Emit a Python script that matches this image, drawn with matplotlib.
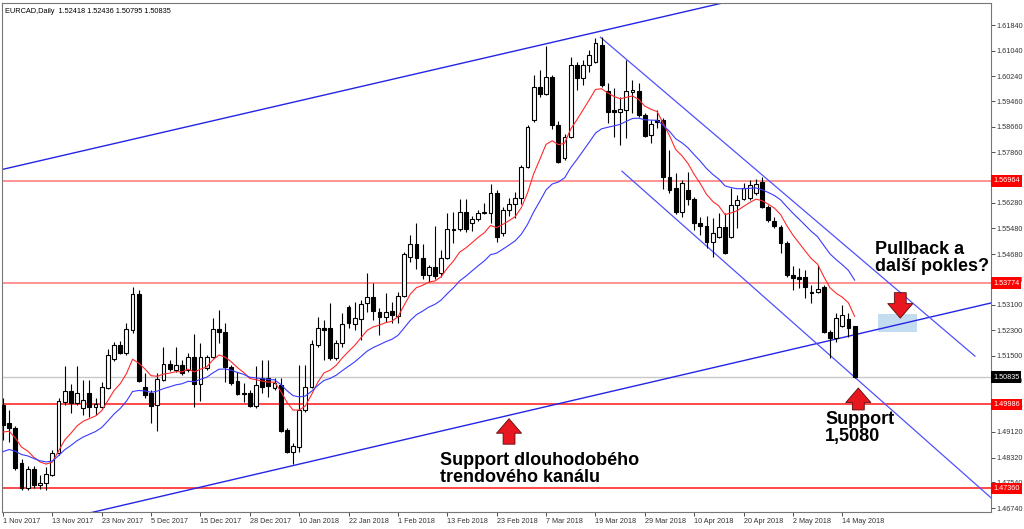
import numpy as np
import matplotlib.pyplot as plt
import matplotlib.transforms as mtransforms

plt.rcParams['font.family'] = ['Liberation Sans', 'DejaVu Sans']

# EURCAD daily, 1 Nov 2017 - 16 May 2018
opens = [
    1.4996, 1.4940, 1.4924, 1.4815, 1.4737, 1.4796, 1.4746, 1.4753, 1.4777, 1.4847,
    1.5006, 1.5040, 1.5003, 1.4987, 1.5034, 1.4990, 1.4990, 1.5049, 1.5140, 1.5184,
    1.5159, 1.5231, 1.5343, 1.5052, 1.5034, 1.4996, 1.5074, 1.5124, 1.5106, 1.5121,
    1.5106, 1.5146, 1.5062, 1.5112, 1.5146, 1.5234, 1.5224, 1.5115, 1.5071, 1.5034,
    1.5034, 1.4993, 1.5080, 1.5080, 1.5049, 1.5058, 1.4918, 1.4850, 1.4865, 1.4981,
    1.5052, 1.5184, 1.5237, 1.5237, 1.5143, 1.5190, 1.5302, 1.5249, 1.5265, 1.5315,
    1.5334, 1.5287, 1.5271, 1.5290, 1.5274, 1.5337, 1.5459, 1.5499, 1.5456, 1.5402,
    1.5427, 1.5409, 1.5456, 1.5543, 1.5546, 1.5599, 1.5565, 1.5577, 1.5596, 1.5596,
    1.5659, 1.5534, 1.5606, 1.5624, 1.5643, 1.5740, 1.5887, 1.5990, 1.5968, 1.6021,
    1.5872, 1.5768, 1.5834, 1.6059, 1.6018, 1.6059, 1.6068, 1.6121, 1.5978, 1.5918,
    1.5912, 1.5918, 1.5975, 1.5978, 1.5903, 1.5840, 1.5887, 1.5887, 1.5709, 1.5674,
    1.5599, 1.5668, 1.5640, 1.5565, 1.5556, 1.5506, 1.5521, 1.5552, 1.5521, 1.5621,
    1.5640, 1.5643, 1.5659, 1.5693, 1.5615, 1.5571, 1.5552, 1.5502, 1.5402, 1.5396,
    1.5396, 1.5349, 1.5349, 1.5365, 1.5224, 1.5206, 1.5243, 1.5265, 1.52418]

highs = [
    1.5018, 1.4981, 1.4930, 1.4828, 1.4805, 1.4805, 1.4777, 1.4802, 1.4856, 1.5018,
    1.5118, 1.5062, 1.5118, 1.5074, 1.5074, 1.5018, 1.5068, 1.5171, 1.5193, 1.5196,
    1.5253, 1.5365, 1.5356, 1.5097, 1.5043, 1.5097, 1.5177, 1.5137, 1.5177, 1.5137,
    1.5159, 1.5218, 1.5190, 1.5152, 1.5268, 1.5293, 1.5253, 1.5121, 1.5099, 1.5065,
    1.5043, 1.5118, 1.5137, 1.5137, 1.5080, 1.5080, 1.4924, 1.4877, 1.5121, 1.5121,
    1.5199, 1.5271, 1.5262, 1.5315, 1.5199, 1.5284, 1.5308, 1.5318, 1.5324, 1.5409,
    1.5378, 1.5299, 1.5346, 1.5318, 1.5349, 1.5474, 1.5527, 1.5565, 1.5499, 1.5434,
    1.5556, 1.5481, 1.5596, 1.5599, 1.5640, 1.5640, 1.5587, 1.5606, 1.5627, 1.5687,
    1.5668, 1.5615, 1.5643, 1.5662, 1.5746, 1.5872, 1.6027, 1.6043, 1.6118, 1.6027,
    1.5884, 1.5843, 1.6084, 1.6068, 1.6074, 1.6106, 1.6143, 1.6146, 1.6003, 1.5987,
    1.5959, 1.6074, 1.6012, 1.6003, 1.5909, 1.5887, 1.5918, 1.5893, 1.5793, 1.5721,
    1.5699, 1.5724, 1.5646, 1.5584, 1.5587, 1.5580, 1.5596, 1.5596, 1.5674, 1.5652,
    1.5690, 1.5699, 1.5702, 1.5709, 1.5621, 1.5584, 1.5559, 1.5509, 1.5431, 1.5424,
    1.5418, 1.5371, 1.5434, 1.5371, 1.5231, 1.5284, 1.5308, 1.5284, 1.52436]

lows = [
    1.4887, 1.4881, 1.4793, 1.4731, 1.4731, 1.4737, 1.4734, 1.4731, 1.4774, 1.4840,
    1.4996, 1.4972, 1.4996, 1.4965, 1.4959, 1.4965, 1.4987, 1.5046, 1.5134, 1.5156,
    1.5152, 1.5222, 1.5068, 1.5018, 1.4940, 1.4915, 1.5071, 1.5103, 1.5099, 1.5090,
    1.5099, 1.4990, 1.5009, 1.5106, 1.5143, 1.5190, 1.5068, 1.5058, 1.5028, 1.5006,
    1.4990, 1.4987, 1.5034, 1.5021, 1.5043, 1.4912, 1.4847, 1.4812, 1.4850, 1.4974,
    1.5049, 1.5177, 1.5137, 1.5137, 1.5137, 1.5177, 1.5237, 1.5231, 1.5199, 1.5287,
    1.5262, 1.5215, 1.5256, 1.5253, 1.5253, 1.5334, 1.5443, 1.5421, 1.5390, 1.5381,
    1.5390, 1.5396, 1.5452, 1.5502, 1.5540, 1.5537, 1.5540, 1.5571, 1.5593, 1.5565,
    1.5506, 1.5524, 1.5587, 1.5580, 1.5624, 1.5737, 1.5881, 1.5959, 1.5965, 1.5859,
    1.5753, 1.5762, 1.5831, 1.5981, 1.5996, 1.6037, 1.6065, 1.5990, 1.5878, 1.5834,
    1.5809, 1.5831, 1.5909, 1.5896, 1.5834, 1.5815, 1.5862, 1.5671, 1.5659, 1.5593,
    1.5584, 1.5621, 1.5543, 1.5527, 1.5487, 1.5459, 1.5518, 1.5468, 1.5518, 1.5549,
    1.5637, 1.5637, 1.5652, 1.5612, 1.5568, 1.5549, 1.5471, 1.5396, 1.5356, 1.5362,
    1.5331, 1.5315, 1.5346, 1.5222, 1.5143, 1.5193, 1.5240, 1.5209, 1.50795]

closes = [
    1.4933, 1.4924, 1.4799, 1.4737, 1.4796, 1.4746, 1.4753, 1.4780, 1.4847, 1.5009,
    1.5040, 1.5003, 1.5034, 1.5012, 1.4990, 1.4999, 1.5052, 1.5152, 1.5184, 1.5159,
    1.5234, 1.5343, 1.5071, 1.5028, 1.4993, 1.5077, 1.5124, 1.5109, 1.5121, 1.5097,
    1.5146, 1.5062, 1.5146, 1.5146, 1.5234, 1.5224, 1.5115, 1.5065, 1.5031, 1.5031,
    1.4993, 1.5058, 1.5052, 1.5055, 1.5065, 1.4915, 1.4850, 1.4868, 1.4981, 1.5052,
    1.5187, 1.5237, 1.5231, 1.5143, 1.5190, 1.5249, 1.5253, 1.5268, 1.5312, 1.5334,
    1.5290, 1.5271, 1.5287, 1.5277, 1.5337, 1.5468, 1.5499, 1.5456, 1.5402, 1.5427,
    1.5399, 1.5456, 1.5546, 1.5546, 1.5599, 1.5546, 1.5577, 1.5596, 1.5599, 1.5659,
    1.5521, 1.5606, 1.5624, 1.5643, 1.5740, 1.5865, 1.5990, 1.5968, 1.6021, 1.5872,
    1.5756, 1.5834, 1.6059, 1.6018, 1.6059, 1.6090, 1.6128, 1.5996, 1.5912, 1.5912,
    1.5921, 1.5978, 1.5981, 1.5903, 1.5837, 1.5875, 1.5881, 1.5709, 1.5668, 1.5599,
    1.5690, 1.5640, 1.5565, 1.5556, 1.5506, 1.5534, 1.5552, 1.5471, 1.5621, 1.5637,
    1.5674, 1.5684, 1.5687, 1.5615, 1.5574, 1.5556, 1.5502, 1.5402, 1.5393, 1.5390,
    1.5365, 1.5346, 1.5359, 1.5224, 1.5206, 1.5268, 1.5277, 1.5237, 1.50835]

# x axis labels, one every 8 bars
date_labels = ['1 Nov 2017', '13 Nov 2017', '23 Nov 2017', '5 Dec 2017', '15 Dec 2017',
               '28 Dec 2017', '10 Jan 2018', '22 Jan 2018', '1 Feb 2018', '13 Feb 2018',
               '23 Feb 2018', '7 Mar 2018', '19 Mar 2018', '29 Mar 2018', '10 Apr 2018',
               '20 Apr 2018', '2 May 2018', '14 May 2018']

# price scale ticks as MT4 shows them
price_ticks = [1.61840, 1.61040, 1.60240, 1.59460, 1.58660, 1.57860, 1.57060, 1.56280,
               1.55480, 1.54680, 1.53880, 1.53100, 1.52300, 1.51500, 1.50720, 1.49920,
               1.49120, 1.48320, 1.47540, 1.46740]

levels = [1.56964, 1.53774, 1.49986, 1.47360]   # red horizontal lines
last_price = 1.50835

# moving averages (fast / slow EMA) and their values just before the first bar
ema_fast_span, ema_fast_start = 10, 1.4907
ema_slow_span, ema_slow_start = 21, 1.4842

# trend lines: (bar, price) anchor pairs
long_chan_top = [(0, 1.5733), (120, 1.6268)]
long_chan_bottom = [(82.2, 1.4965), (140.5, 1.5227)]
down_chan_top = [(96.8, 1.6146), (157.5, 1.5149)]
down_chan_bottom = [(100.3, 1.5727), (138.2, 1.5080)]

pullback_zone = (141.8, 148.1, 1.5224, 1.5281)


def ema(values, span, start):
    alpha = 2.0 / (span + 1)
    out = []
    prev = start
    for v in values:
        prev = prev + alpha * (v - prev)
        out.append(prev)
    return out


def line_between(p0, p1, x0, x1):
    # the line through p0 and p1, drawn from x0 to x1
    slope = (p1[1] - p0[1]) / (p1[0] - p0[0])
    return [x0, x1], [p0[1] + slope * (x0 - p0[0]), p0[1] + slope * (x1 - p0[0])]


o = np.array(opens)
h = np.array(highs)
l = np.array(lows)
c = np.array(closes)
x = np.arange(len(c))
up = c >= o

fig = plt.figure(figsize=(10.24, 5.29), dpi=100)
ax = fig.add_axes([2 / 1024, 17 / 529, 989 / 1024, 509 / 529])
x_min, x_max = -0.16, 160.1
ax.set_xlim(x_min, x_max)
ax.set_ylim(1.46617, 1.62528)

# candles
ax.vlines(x, l, h, color='black', lw=0.8, zorder=3)
body_bottom = np.minimum(o, c)
body_h = np.maximum(np.abs(c - o), 0.00012)
ax.bar(x, body_h, bottom=body_bottom, width=0.62,
       color=np.where(up, 'white', 'black'), edgecolor='black', linewidth=0.8, zorder=4)

# moving averages
ax.plot(x, ema(closes, ema_fast_span, ema_fast_start), color='#ff2a2a', lw=0.8, zorder=5)
ax.plot(x, ema(closes, ema_slow_span, ema_slow_start), color='#3a3aff', lw=0.8, zorder=5)

# horizontal levels
for i, lv in enumerate(levels):
    col = '#ff8080' if i < 2 else '#ff2a2a'
    ax.axhline(lv, color=col, lw=1.2, zorder=2)
ax.axhline(last_price, color='#c8c8c8', lw=1, zorder=1)

# trend lines
xs, ys = line_between(long_chan_top[0], long_chan_top[1], x_min - 1, x_max)
ax.plot(xs, ys, color='#2424e6', lw=1, zorder=2)
xs, ys = line_between(long_chan_bottom[0], long_chan_bottom[1], x_min - 1, x_max)
ax.plot(xs, ys, color='#2424e6', lw=1, zorder=2)
ax.plot([p[0] for p in down_chan_top], [p[1] for p in down_chan_top],
        color='#5050ff', lw=0.9, zorder=2)
xs, ys = line_between(down_chan_bottom[0], down_chan_bottom[1], down_chan_bottom[0][0], x_max)
ax.plot(xs, ys, color='#5050ff', lw=0.9, zorder=2)

# pullback zone
ax.fill_between([pullback_zone[0], pullback_zone[1]], pullback_zone[2], pullback_zone[3],
                color='#c4dcf0', lw=0, zorder=1.5)

# arrows
arrow_kw = dict(arrowstyle='simple,head_length=0.55,head_width=0.95,tail_width=0.45',
                fc='#e8161e', ec='#5a0c0c', lw=0.6, mutation_scale=19)
ax.annotate('', xy=(145.4, 1.5259), xytext=(145.4, 1.5356),
            arrowprops=arrow_kw, zorder=6)
ax.annotate('', xy=(138.6, 1.5058), xytext=(138.6, 1.4972),
            arrowprops=arrow_kw, zorder=6)
ax.annotate('', xy=(82.0, 1.4962), xytext=(82.0, 1.4865),
            arrowprops=arrow_kw, zorder=6)

# comments
txt_kw = dict(fontsize=13, fontweight='bold', color='black', ha='left', va='center',
              linespacing=1.0, zorder=7)
ax.text(141.3, 1.5456, 'Pullback a\ndalší pokles?', **txt_kw)
ax.text(133.2, 1.4925, 'Support\n1,5080', **txt_kw)
ax.text(70.8, 1.4795, 'Support dlouhodobého\ntrendového kanálu', **txt_kw)

# header
ax.text(0.003, 0.99, 'EURCAD,Daily  %.5f %.5f %.5f %.5f' % (opens[-1], highs[-1], lows[-1], closes[-1]),
        transform=ax.transAxes, fontsize=5.3, va='top', ha='left', zorder=8)

# axes
ax.yaxis.tick_right()
ax.set_yticks(price_ticks)
ax.set_yticklabels(['%.5f' % t for t in price_ticks])
ax.set_xticks(range(0, 8 * len(date_labels), 8))
ax.set_xticklabels(date_labels)
for lab in ax.get_xticklabels():
    lab.set_ha('left')
ax.tick_params(axis='both', direction='out', length=3, width=0.6, labelsize=5.2,
               colors='#333333', pad=1)
for sp in ax.spines.values():
    sp.set_color('#777777')
    sp.set_linewidth(0.8)

# price labels on the right scale
tr = mtransforms.blended_transform_factory(ax.transAxes, ax.transData)
for lv in levels:
    ax.text(1.002, lv, '%.5f' % lv, transform=tr, fontsize=5.2, color='white', va='center',
            ha='left', clip_on=False, zorder=9,
            bbox=dict(boxstyle='square,pad=0.3', fc='#ff0000', ec='none'))
ax.text(1.002, last_price, '%.5f' % last_price, transform=tr, fontsize=5.2, color='white',
        va='center', ha='left', clip_on=False, zorder=9,
        bbox=dict(boxstyle='square,pad=0.3', fc='black', ec='none'))

fig.savefig('out.png', dpi=100)
